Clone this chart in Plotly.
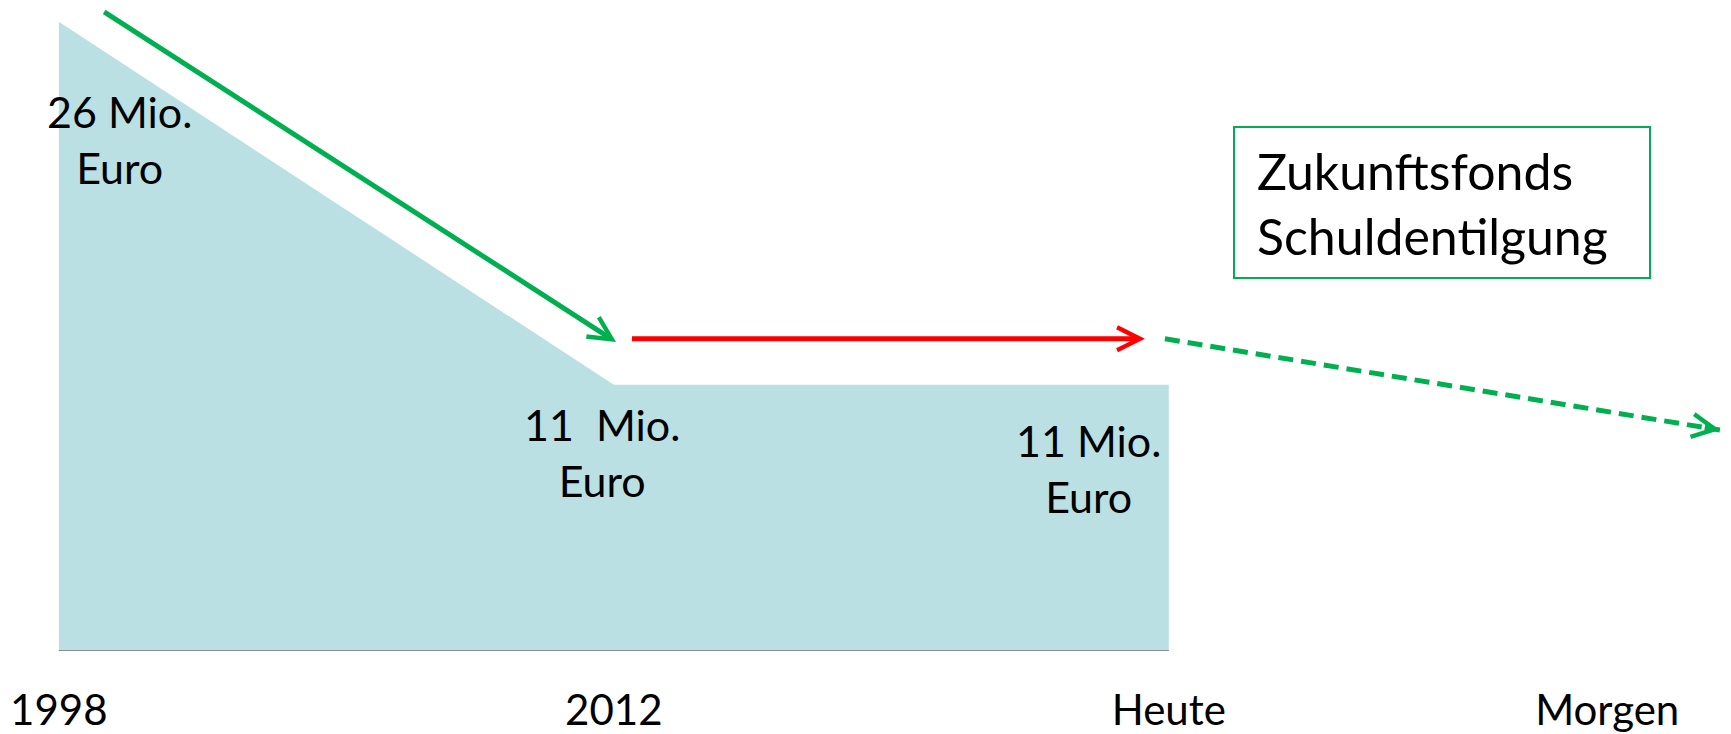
import plotly.graph_objects as go

# ---- data ----
tick_labels = ["1998", "2012", "Heute", "Morgen"]
tick_pos = [0, 1, 2, 2.79]
area_x = [0, 1, 2]
area_y = [26, 11, 11]
value_labels = ["26 Mio.<br>Euro", "11 \u00a0Mio.<br>Euro", "11 Mio.<br>Euro"]
label_shift_x = [61, -12, -80]
label_shift_y = [-118, -68, -84]

# trend arrows (data space): start -> end
green_arrow_x = [0.079, 1.004]
green_arrow_y = [26.45, 12.77]
red_arrow_x = [1.03, 1.957]
red_arrow_y = [12.9, 12.9]
dash_arrow_x = [1.993, 2.993]
dash_arrow_y = [12.9, 9.13]

box_text = "Zukunftsfonds<br>Schuldentilgung"

GREEN = "#00B050"
RED = "#FF0000"
FILL = "#BBE0E3"
FONT = "Lato"

W, H, B = 1731, 734, 83
PH = H - B  # plot area height in px

fig = go.Figure()

fig.add_trace(go.Scatter(
    x=area_x, y=area_y, mode="lines", fill="tozeroy",
    fillcolor=FILL, line=dict(width=0, color=FILL), hoverinfo="skip"))

fig.add_trace(go.Scatter(
    x=[area_x[0], area_x[-1]], y=[0, 0], mode="lines",
    line=dict(color="#8c8c8c", width=2), hoverinfo="skip"))

fig.add_trace(go.Scatter(
    x=dash_arrow_x, y=dash_arrow_y, mode="lines",
    line=dict(color=GREEN, width=5, dash="15px,8px"), hoverinfo="skip"))

annotations = []
for x, y, t, sx, sy in zip(area_x, area_y, value_labels, label_shift_x, label_shift_y):
    annotations.append(dict(
        x=x, y=y, xref="x", yref="y", text=t, showarrow=False,
        xshift=sx, yshift=sy, align="center",
        font=dict(family=FONT, size=43, color="black")))

def arrow(xs, ys, color, width, size=0.9):
    return dict(x=xs[1], y=ys[1], ax=xs[0], ay=ys[0], xref="x", yref="y",
                axref="x", ayref="y", text="", showarrow=True,
                arrowhead=5, arrowsize=size, arrowwidth=width,
                arrowcolor=color, standoff=0, startstandoff=0)

annotations.append(arrow(green_arrow_x, green_arrow_y, GREEN, 5))
annotations.append(arrow(red_arrow_x, red_arrow_y, RED, 5))
# head of the dashed arrow: short tail along the dashed line
frac = 0.03
tail_x = dash_arrow_x[1] - frac * (dash_arrow_x[1] - dash_arrow_x[0])
tail_y = dash_arrow_y[1] - frac * (dash_arrow_y[1] - dash_arrow_y[0])
annotations.append(arrow([tail_x, dash_arrow_x[1]], [tail_y, dash_arrow_y[1]], GREEN, 5))

# text of the framed box
annotations.append(dict(
    x=1255 / W, y=1 - 204 / PH, xref="paper", yref="paper",
    xanchor="left", yanchor="middle", text=box_text, showarrow=False,
    align="left", font=dict(family=FONT, size=50, color="black")))

shapes = [dict(type="rect", xref="paper", yref="paper",
               x0=1234 / W, x1=1650 / W, y0=1 - 278 / PH, y1=1 - 127 / PH,
               line=dict(color=GREEN, width=2), fillcolor="rgba(0,0,0,0)")]

fig.update_layout(
    width=W, height=H,
    margin=dict(l=0, r=0, t=0, b=B),
    paper_bgcolor="white", plot_bgcolor="white",
    showlegend=False,
    annotations=annotations,
    shapes=shapes,
    xaxis=dict(range=[-0.106, 3.013], tickvals=tick_pos, ticktext=tick_labels,
               showgrid=False, zeroline=False, showline=False, ticks="",
               tickfont=dict(family=FONT, size=42, color="black"),
               ticklabelstandoff=31, automargin=False, fixedrange=True),
    yaxis=dict(range=[0, 26.9], visible=False, fixedrange=True, automargin=False),
)

fig.write_html("out.html", config={"displayModeBar": False},
               post_script="document.body.style.margin='0';")
